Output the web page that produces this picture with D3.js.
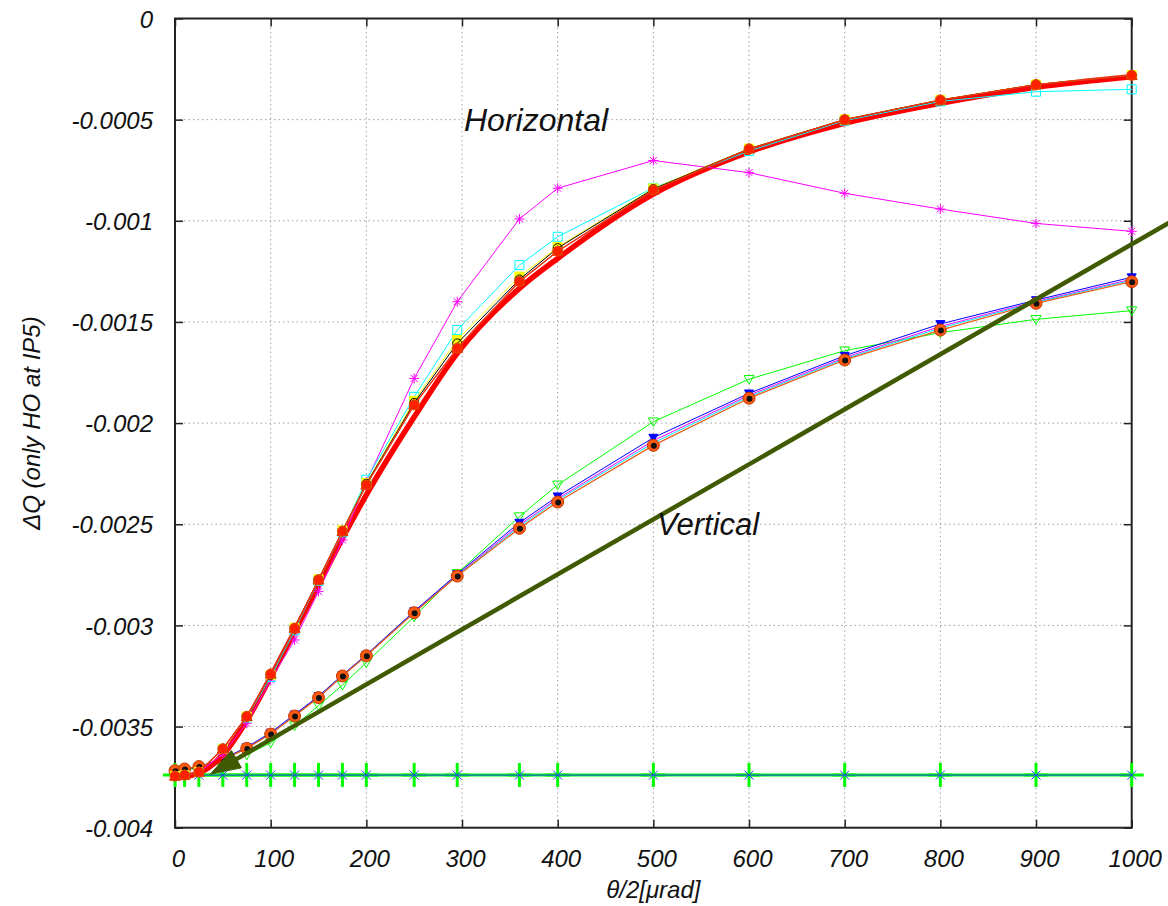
<!DOCTYPE html>
<html>
<head>
<meta charset="utf-8">
<script src="https://cdn.jsdelivr.net/npm/d3@7"></script>
<style>
  body { margin: 0; background: #fff; }
  svg { display: block; background: #fff; }
  text { font-family: "Liberation Sans", Arial, Helvetica, sans-serif; font-style: italic; fill: #111; }
</style>
</head>
<body>
<svg id="chart" width="1168" height="906"></svg>
<script>
// Beam separation half-angle θ/2 in µrad
const theta = [0, 10, 25, 50, 75, 100, 125, 150, 175, 200, 250, 295, 360, 400, 500, 600, 700, 800, 900, 1000];

// Tick values and labels
const xTicks = [0, 100, 200, 300, 400, 500, 600, 700, 800, 900, 1000];
const yTicks = [0, -0.0005, -0.001, -0.0015, -0.002, -0.0025, -0.003, -0.0035, -0.004];
const yTickLabels = ["0", "-0.0005", "-0.001", "-0.0015", "-0.002", "-0.0025", "-0.003", "-0.0035", "-0.004"];

// Horizontal crossing: tune shift ΔQ
const hFit     = [-0.00375, -0.003747, -0.00373, -0.00364, -0.00347, -0.003255, -0.00303, -0.0028, -0.00257, -0.002355, -0.00197, -0.001655, -0.001334, -0.001186, -0.000868, -0.00066, -0.000518, -0.000419, -0.00034, -0.000288];
const hMagenta = [-0.003745, -0.00374, -0.003728, -0.003635, -0.003484, -0.00327, -0.003072, -0.002833, -0.002578, -0.00229, -0.001779, -0.0014, -0.000991, -0.000839, -0.000702, -0.000762, -0.000864, -0.000942, -0.001013, -0.001052];
const hCyan    = [-0.003745, -0.00374, -0.003725, -0.00361, -0.003455, -0.003255, -0.003025, -0.00278, -0.00254, -0.00228, -0.00187, -0.00154, -0.001219, -0.001079, -0.000837, -0.000655, -0.000505, -0.00041, -0.000362, -0.00035];
const hYellow  = [-0.003745, -0.00374, -0.003725, -0.00361, -0.00345, -0.003245, -0.003012, -0.002772, -0.00253, -0.002296, -0.00189, -0.001589, -0.001276, -0.00113, -0.00084, -0.000643, -0.000499, -0.000402, -0.000326, -0.00028];
const hBlack   = [-0.003745, -0.00374, -0.003725, -0.00361, -0.00345, -0.003245, -0.003013, -0.002773, -0.002532, -0.0023, -0.0019, -0.001606, -0.00129, -0.001135, -0.000843, -0.000644, -0.0005, -0.000403, -0.000327, -0.000281];
const hBrown   = [-0.003745, -0.00374, -0.003725, -0.00361, -0.00345, -0.00324, -0.003014, -0.002775, -0.002535, -0.002306, -0.00191, -0.00163, -0.0013, -0.00115, -0.000848, -0.000645, -0.0005, -0.000403, -0.000327, -0.000281];
const hRed     = [-0.003745, -0.00374, -0.003725, -0.00361, -0.00345, -0.00324, -0.003014, -0.002775, -0.002535, -0.002306, -0.00191, -0.00163, -0.0013, -0.00115, -0.000848, -0.000645, -0.0005, -0.000403, -0.000327, -0.000281];

// Vertical crossing: tune shift ΔQ
const vGreen   = [-0.00372, -0.003715, -0.003705, -0.003682, -0.00364, -0.00358, -0.003496, -0.003397, -0.003295, -0.003184, -0.002957, -0.002743, -0.002462, -0.002305, -0.001993, -0.001783, -0.001642, -0.001553, -0.001487, -0.001444];
const vBlue    = [-0.00372, -0.003712, -0.003698, -0.00366, -0.003602, -0.00353, -0.00344, -0.00335, -0.003245, -0.003145, -0.00293, -0.002746, -0.002492, -0.002362, -0.002072, -0.001853, -0.001667, -0.00151, -0.001392, -0.001279];
const vMagenta = [-0.00372, -0.003712, -0.003698, -0.003663, -0.003605, -0.003534, -0.003444, -0.003353, -0.003248, -0.003148, -0.002934, -0.002752, -0.002503, -0.002373, -0.002087, -0.001862, -0.001676, -0.001522, -0.001399, -0.001289];
const vCyan    = [-0.00372, -0.003712, -0.003698, -0.003664, -0.003607, -0.003536, -0.003446, -0.003355, -0.003249, -0.003149, -0.002936, -0.002754, -0.002511, -0.00238, -0.002098, -0.001869, -0.001682, -0.00153, -0.001403, -0.001294];
const vOrange  = [-0.003718, -0.00371, -0.003698, -0.003665, -0.003608, -0.003537, -0.003448, -0.003357, -0.00325, -0.00315, -0.002937, -0.002756, -0.00252, -0.00239, -0.00211, -0.001877, -0.001688, -0.00154, -0.001408, -0.001301];

// Head-on only reference level
const hoOnly = [-0.00374, -0.00374, -0.00374, -0.00374, -0.00374, -0.00374, -0.00374, -0.00374, -0.00374, -0.00374, -0.00374, -0.00374, -0.00374, -0.00374, -0.00374, -0.00374, -0.00374, -0.00374, -0.00374, -0.00374];

// Arrow: tail and head in data coordinates
const arrowFrom = [1050, -0.00098];
const arrowTo   = [37, -0.003735];

// Plot box
const box = { left: 175, right: 1131.7, top: 18.5, bottom: 827.7 };

const svg = d3.select("#chart");
const x = d3.scaleLinear().domain([0, 1000]).range([box.left, box.right]);
const y = d3.scaleLinear().domain([-0.004, 0]).range([box.bottom, box.top]);

// Grid
const grid = svg.append("g").attr("stroke", "#a0a0a0").attr("stroke-width", 1).attr("stroke-dasharray", "1.5,3");
grid.selectAll("line.gx").data(xTicks.filter(d => d > 0 && d < 1000)).join("line")
  .attr("x1", d => x(d)).attr("x2", d => x(d)).attr("y1", box.top).attr("y2", box.bottom);
grid.selectAll("line.gy").data(yTicks.filter(d => d < 0 && d > -0.004)).join("line")
  .attr("y1", d => y(d)).attr("y2", d => y(d)).attr("x1", box.left).attr("x2", box.right);

// Axes with inward ticks (bottom/left labelled, top/right mirrored)
const fmtX = d => String(d);
const axB = svg.append("g").attr("transform", `translate(0,${box.bottom})`)
  .call(d3.axisBottom(x).tickValues(xTicks).tickSize(-8).tickPadding(22).tickFormat(fmtX));
const axT = svg.append("g").attr("transform", `translate(0,${box.top})`)
  .call(d3.axisTop(x).tickValues(xTicks).tickSize(-8).tickFormat(""));
const axL = svg.append("g").attr("transform", `translate(${box.left},0)`)
  .call(d3.axisLeft(y).tickValues(yTicks).tickSize(-8).tickPadding(22).tickFormat((d, i) => yTickLabels[i]));
const axR = svg.append("g").attr("transform", `translate(${box.right},0)`)
  .call(d3.axisRight(y).tickValues(yTicks).tickSize(-8).tickFormat(""));
[axB, axT, axL, axR].forEach(a => {
  a.select(".domain").remove();
  a.selectAll(".tick line").attr("stroke", "#222").attr("stroke-width", 1.5);
  a.selectAll("text").attr("font-size", 24).attr("font-family", null).attr("fill", "#111");
});
axB.selectAll(".tick text").attr("dx", 3);
axL.selectAll(".tick text").attr("dx", 0).attr("dy", "0.36em");

// Frame
svg.append("rect").attr("x", box.left).attr("y", box.top)
  .attr("width", box.right - box.left).attr("height", box.bottom - box.top)
  .attr("fill", "none").attr("stroke", "#222").attr("stroke-width", 2);

// Marker shapes
const markers = {
  star: s => `M${-s},0H${s}M0,${-s}V${s}M${-s*0.7},${-s*0.7}L${s*0.7},${s*0.7}M${-s*0.7},${s*0.7}L${s*0.7},${-s*0.7}`,
  plus: s => `M${-s},0H${s}M0,${-s}V${s}`,
  cross: s => `M${-s},${-s}L${s},${s}M${-s},${s}L${s},${-s}`,
  square: s => `M${-s},${-s}H${s}V${s}H${-s}Z`,
  circle: s => `M${s},0A${s},${s} 0 1 1 ${-s},0A${s},${s} 0 1 1 ${s},0Z`,
  triUp: s => `M0,${-s}L${s},${s*0.75}L${-s},${s*0.75}Z`,
  triDown: s => `M0,${s}L${s},${-s*0.75}L${-s},${-s*0.75}Z`
};

const line = d3.line().x(d => x(d[0])).y(d => y(d[1]));
const smooth = d3.line().x(d => x(d[0])).y(d => y(d[1])).curve(d3.curveMonotoneX);
const pts = vals => theta.map((t, i) => [t, vals[i]]);

function drawSeries(vals, o) {
  const g = svg.append("g");
  g.append("path").attr("d", (o.curve ? smooth : line)(pts(vals)))
    .attr("fill", "none").attr("stroke", o.color).attr("stroke-width", o.width || 1)
    .attr("stroke-linejoin", "round").attr("stroke-linecap", "round");
  if (o.marker) {
    g.selectAll("path.m").data(pts(vals)).join("path").attr("class", "m")
      .attr("transform", d => `translate(${x(d[0])},${y(d[1])})`)
      .attr("d", markers[o.marker](o.size))
      .attr("fill", o.fill || "none")
      .attr("stroke", o.mstroke || o.color)
      .attr("stroke-width", o.mwidth || 1);
  }
  if (o.inner) {
    g.selectAll("circle.in").data(pts(vals)).join("circle").attr("class", "in")
      .attr("cx", d => x(d[0]) + 0.5).attr("cy", d => y(d[1]) + 0.5).attr("r", o.inner)
      .attr("fill", "#111");
  }
}

// Head-on reference level
drawSeries(hoOnly, { color: "#00ff00", width: 3, marker: "plus", size: 12, mwidth: 3 });
drawSeries(hoOnly, { color: "#2040ff", width: 1, marker: "cross", size: 4.5, mwidth: 1 });

// Vertical crossing
drawSeries(vGreen,   { color: "#00ff00", marker: "triDown", size: 5 });
drawSeries(vMagenta, { color: "#ff00ff" });
drawSeries(vCyan,    { color: "#00e5ff" });
drawSeries(vBlue,    { color: "#0000ff", marker: "triDown", size: 4.5, fill: "#0000ff" });
drawSeries(vOrange,  { color: "#e8601a", width: 1.3, marker: "circle", size: 6, fill: "#ff5a14", mstroke: "#c03800", mwidth: 1, inner: 3 });

// Horizontal crossing
drawSeries(hFit,     { color: "#ff0000", width: 5.5, curve: true });
drawSeries(hMagenta, { color: "#ff00ff", marker: "star", size: 5 });
drawSeries(hCyan,    { color: "#00ffff", marker: "square", size: 4.5 });
drawSeries(hYellow,  { color: "#ffff00", marker: "square", size: 4.5, fill: "#ffff00" });
drawSeries(hBlack,   { color: "#000000", marker: "circle", size: 4.5 });
drawSeries(hBrown,   { color: "#a0522d", width: 1.2, marker: "triUp", size: 5.5, fill: "#ff1a00", mstroke: "#e03000" });
drawSeries(hRed,     { color: "#ff3010", width: 1.2, marker: "circle", size: 5, fill: "#ff2000", mstroke: "#d85000" });

// Arrow pointing to the head-on level
(function drawArrow() {
  const x0 = x(arrowFrom[0]), y0 = y(arrowFrom[1]);
  const x1 = x(arrowTo[0]), y1 = y(arrowTo[1]);
  const len = Math.hypot(x0 - x1, y0 - y1);
  const ux = (x0 - x1) / len, uy = (y0 - y1) / len;
  const headLen = 30, headHalf = 10;
  const bx = x1 + ux * headLen, by = y1 + uy * headLen;
  svg.append("line").attr("x1", x0).attr("y1", y0).attr("x2", bx - ux * 2).attr("y2", by - uy * 2)
    .attr("stroke", "#3f5a00").attr("stroke-width", 4.5);
  svg.append("path")
    .attr("d", `M${x1},${y1}L${bx - uy * headHalf},${by + ux * headHalf}L${bx + uy * headHalf},${by - ux * headHalf}Z`)
    .attr("fill", "#3f5a00").attr("stroke", "#3f5a00").attr("stroke-width", 1);
})();

// Group labels
svg.append("text").attr("x", 464).attr("y", 131).attr("font-size", 32).text("Horizontal");
svg.append("text").attr("x", 657).attr("y", 535).attr("font-size", 31).text("Vertical");

// Axis titles
svg.append("text").attr("x", (box.left + box.right) / 2).attr("y", 898)
  .attr("text-anchor", "middle").attr("font-size", 24).text("θ/2[μrad]");
svg.append("text").attr("transform", `translate(40,${(box.top + box.bottom) / 2}) rotate(-90)`)
  .attr("text-anchor", "middle").attr("font-size", 24).text("ΔQ (only HO at IP5)");
</script>
</body>
</html>
